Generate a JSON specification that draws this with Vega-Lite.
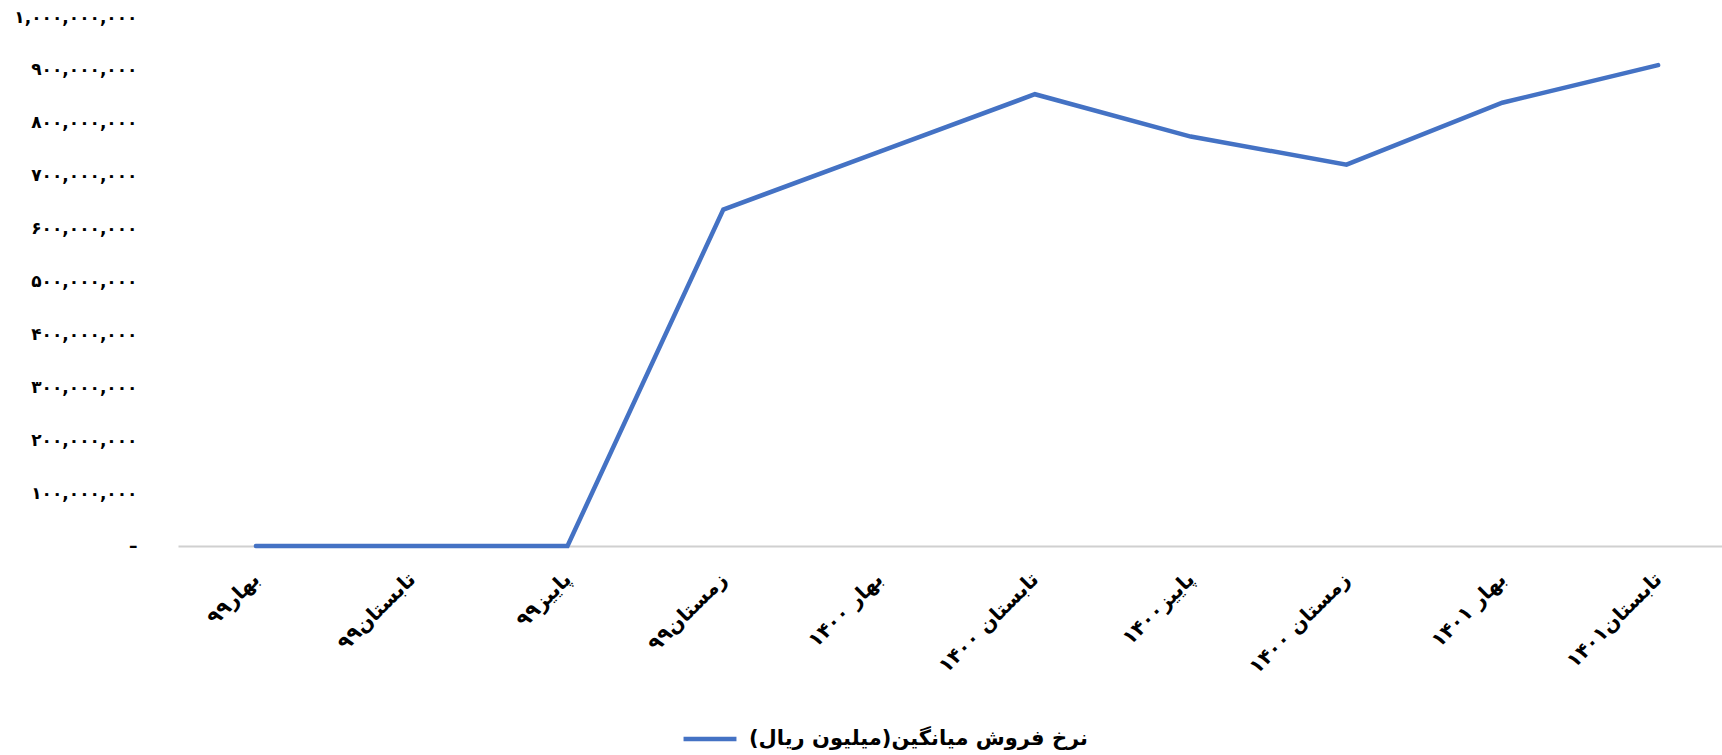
{
  "$schema": "https://vega.github.io/schema/vega-lite/v6.json",
  "autosize": "none",
  "padding": {"left": 178, "top": 17, "right": 0, "bottom": 209},
  "width": 1558,
  "height": 529,
  "background": "white",
  "data": {
    "values": [
      {"season": "بهار۹۹", "value": 0, "series": "نرخ فروش میانگین(میلیون ریال)"},
      {"season": "تابستان۹۹", "value": 0, "series": "نرخ فروش میانگین(میلیون ریال)"},
      {"season": "پاییز۹۹", "value": 0, "series": "نرخ فروش میانگین(میلیون ریال)"},
      {"season": "زمستان۹۹", "value": 636000000, "series": "نرخ فروش میانگین(میلیون ریال)"},
      {"season": "بهار ۱۴۰۰", "value": 745000000, "series": "نرخ فروش میانگین(میلیون ریال)"},
      {"season": "تابستان ۱۴۰۰", "value": 854000000, "series": "نرخ فروش میانگین(میلیون ریال)"},
      {"season": "پاییز۱۴۰۰", "value": 774000000, "series": "نرخ فروش میانگین(میلیون ریال)"},
      {"season": "زمستان ۱۴۰۰", "value": 721000000, "series": "نرخ فروش میانگین(میلیون ریال)"},
      {"season": "بهار ۱۴۰۱", "value": 838000000, "series": "نرخ فروش میانگین(میلیون ریال)"},
      {"season": "تابستان۱۴۰۱", "value": 909000000, "series": "نرخ فروش میانگین(میلیون ریال)"}
    ]
  },
  "mark": {"type": "line", "strokeWidth": 4.5, "strokeCap": "round", "strokeJoin": "miter"},
  "encoding": {
    "x": {
      "field": "season",
      "type": "ordinal",
      "sort": null,
      "scale": {"type": "point", "padding": 0.5},
      "axis": {
        "title": null,
        "labelAngle": -45,
        "labelAlign": "right",
        "labelBaseline": "middle",
        "labelPadding": 30,
        "labelFont": "DejaVu Sans",
        "labelFontSize": 20,
        "labelFontWeight": "bold",
        "labelColor": "#000000",
        "labelLimit": 300,
        "ticks": false,
        "domainColor": "#d0d0d0",
        "domainWidth": 2,
        "grid": false
      }
    },
    "y": {
      "field": "value",
      "type": "quantitative",
      "scale": {"domain": [0, 1000000000], "nice": false},
      "axis": {
        "title": null,
        "values": [0, 100000000, 200000000, 300000000, 400000000, 500000000, 600000000, 700000000, 800000000, 900000000, 1000000000],
        "labelExpr": "datum.value == 0 ? '–' : replace(replace(replace(replace(replace(replace(replace(replace(replace(replace(format(datum.value, ','), regexp('0','g'), '۰'), regexp('1','g'), '۱'), regexp('2','g'), '۲'), regexp('3','g'), '۳'), regexp('4','g'), '۴'), regexp('5','g'), '۵'), regexp('6','g'), '۶'), regexp('7','g'), '۷'), regexp('8','g'), '۸'), regexp('9','g'), '۹')",
        "labelFont": "DejaVu Sans",
        "labelFontSize": 17,
        "labelFontWeight": "bold",
        "labelColor": "#000000",
        "labelPadding": 41,
        "ticks": false,
        "domain": false,
        "grid": false
      }
    },
    "color": {
      "field": "series",
      "type": "nominal",
      "scale": {"range": ["#4472C4"]},
      "legend": {
        "title": null,
        "orient": "none",
        "legendX": 503,
        "legendY": 693,
        "symbolType": "stroke",
        "symbolStrokeWidth": 4.5,
        "symbolSize": 2800,
        "labelFont": "DejaVu Sans",
        "labelFontSize": 21,
        "labelFontWeight": "bold",
        "labelColor": "#000000",
        "labelLimit": 600,
        "labelOffset": 10
      }
    }
  },
  "config": {"view": {"stroke": null}}
}
